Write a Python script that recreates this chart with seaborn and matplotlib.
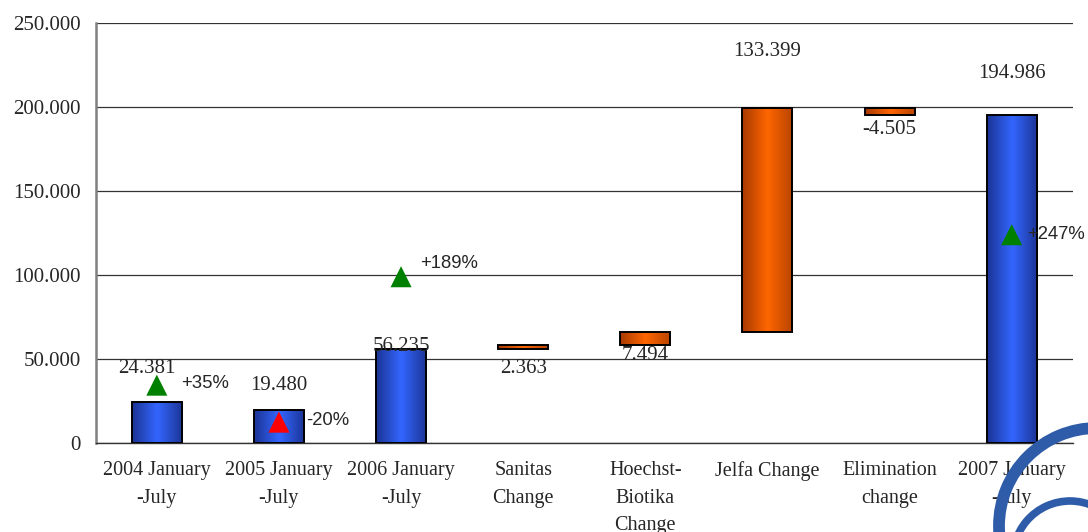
import matplotlib
matplotlib.use("Agg")
import numpy as np
import pandas as pd
import matplotlib.pyplot as plt
import seaborn as sns
from matplotlib.colors import LinearSegmentedColormap
from matplotlib.patches import Arc
from matplotlib.ticker import FuncFormatter, MultipleLocator

categories = [
    "2004 January\n-July", "2005 January\n-July", "2006 January\n-July",
    "Sanitas\nChange", "Hoechst-\nBiotika\nChange", "Jelfa Change",
    "Elimination\nchange", "2007 January\n-July",
]
changes = [24381, 19480, 56235, 2363, 7494, 133399, -4505, 194986]
is_total = [True, True, True, False, False, False, False, True]
value_labels = ["24.381", "19.480", "56.235", "2.363", "7.494", "133.399", "-4.505", "194.986"]
label_x = [-0.08, 0.0, 0.0, 0.0, 0.0, 0.0, 0.0, 0.0]
label_y = [44600, 34000, 57700, 44600, 52400, 232700, 186300, 220000]

growth_pos = [0, 1, 2, 7]
growth_y = [34500, 12500, 99000, 124000]
growth_text = ["+35%", "-20%", "+189%", "+247%"]
growth_color = ["green", "red", "green", "green"]
growth_text_dx = [0.2, 0.22, 0.16, 0.13]
growth_text_y = [35500, 13500, 107000, 124400]

BLUE = "#3366ff"
ORANGE = "#ff6600"
SERIF = "Liberation Serif"
SANS = "Liberation Sans"

# running base for the waterfall pieces
base = []
level = 0
for v, tot in zip(changes, is_total):
    if tot:
        base.append(0)
        level = v
    else:
        base.append(level)
        level += v

df = pd.DataFrame({"category": categories, "change": changes, "base": base})

sns.set_style("white")
plt.rcParams["font.family"] = [SERIF, "DejaVu Serif"]

fig = plt.figure(figsize=(10.88, 5.32), dpi=100)
ax = fig.add_axes([0.088, 0.167, 0.898, 0.79])

sns.barplot(
    data=df, x="category", y="change", bottom=df["base"].to_numpy(),
    width=0.41, color=BLUE, edgecolor="black", linewidth=1.4,
    errorbar=None, ax=ax, zorder=4,
)

blue_cmap = LinearSegmentedColormap.from_list("b", ["#1c3596", BLUE, "#1c3596"])
orange_cmap = LinearSegmentedColormap.from_list("o", ["#a83a00", ORANGE, "#b84400"])
grad = np.linspace(0, 1, 64).reshape(1, -1)
for patch, tot in zip(ax.patches, is_total):
    x0, y0 = patch.get_x(), patch.get_y()
    w, h = patch.get_width(), patch.get_height()
    im = ax.imshow(grad, extent=[x0, x0 + w, y0, y0 + h], aspect="auto",
                   cmap=blue_cmap if tot else orange_cmap, zorder=3,
                   interpolation="bicubic")
    im.set_clip_path(patch)
    patch.set_facecolor("none")

ax.set_xlim(-0.5, 7.5)
ax.set_ylim(0, 250000)

sns.scatterplot(x=growth_pos, y=growth_y, hue=growth_pos,
                palette=dict(zip(growth_pos, growth_color)), marker="^",
                s=230, linewidth=0, legend=False, ax=ax, zorder=6)

for i, (txt, x, y) in enumerate(zip(value_labels, label_x, label_y)):
    ax.text(i + x, y, txt, ha="center", va="center", fontsize=15,
            family=SERIF, zorder=7)

for p, txt, dx, y in zip(growth_pos, growth_text, growth_text_dx, growth_text_y):
    ax.text(p + dx, y, txt, ha="left", va="center", fontsize=13.3,
            family=SANS, zorder=7)

ax.yaxis.set_major_locator(MultipleLocator(50000))
ax.yaxis.set_major_formatter(FuncFormatter(
    lambda v, _: "0" if v == 0 else f"{int(v):,}".replace(",", ".")))
ax.grid(axis="y", color="#333333", linewidth=0.9, zorder=0)
ax.set_axisbelow(True)

ax.set_xticks(range(len(categories)))
ax.set_xticklabels(categories, fontsize=14.5, linespacing=1.6, va="top")
ax.set_xticks(np.arange(-0.5, 8, 1), minor=True)
ax.tick_params(axis="x", which="major", length=0, pad=13)
ax.tick_params(axis="x", which="minor", length=6, width=1, color="#333333",
               direction="out")
ax.tick_params(axis="y", length=6, width=1, color="#333333", direction="out",
               labelsize=15, pad=5)
ax.set_xlabel("")
ax.set_ylabel("")

sns.despine(ax=ax, top=True, right=True)
ax.spines["left"].set_color("#808080")
ax.spines["left"].set_linewidth(1.8)
ax.spines["bottom"].set_color("#333333")
ax.spines["bottom"].set_linewidth(1.0)

# logo swirl in the lower right corner
ov = fig.add_axes([0, 0, 1, 1], zorder=10)
ov.set_xlim(0, 1088)
ov.set_ylim(532, 0)
ov.axis("off")
ov.add_patch(Arc((1097, 526), 196, 196, linewidth=8.5, color="#2f5ca8"))
ov.add_patch(Arc((1070, 558), 114, 114, theta1=170, theta2=372,
                 linewidth=5.5, color="#2f5ca8", capstyle="round"))

fig.savefig("out.png", dpi=100)
